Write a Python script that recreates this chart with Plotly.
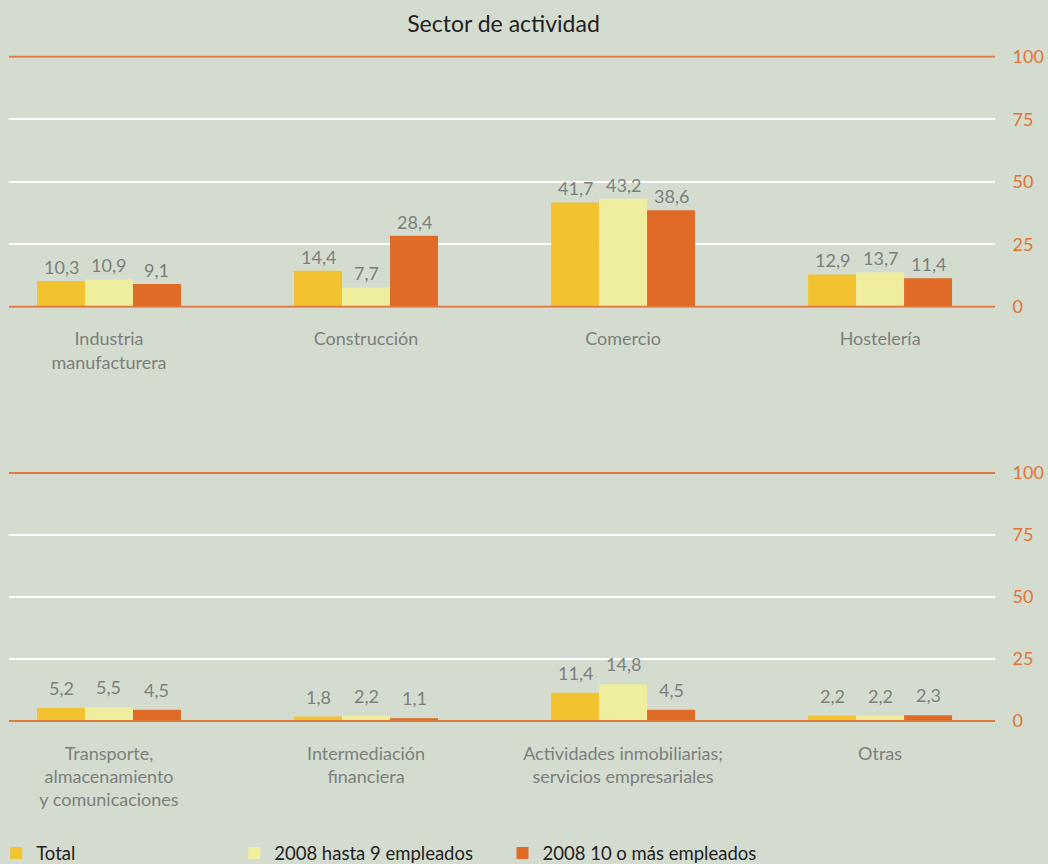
import plotly.graph_objects as go
from plotly.subplots import make_subplots

# categories for each panel
cats_top = ["Industria<br>manufacturera", "Construcción", "Comercio", "Hostelería"]
cats_bot = ["Transporte,<br>almacenamiento<br>y comunicaciones", "Intermediación<br>financiera",
            "Actividades inmobiliarias;<br>servicios empresariales", "Otras"]

series_names = ["Total", "2008 hasta 9 empleados", "2008 10 o más empleados"]

total_top = [10.3, 14.4, 41.7, 12.9]
hasta9_top = [10.9, 7.7, 43.2, 13.7]
mas10_top = [9.1, 28.4, 38.6, 11.4]

total_bot = [5.2, 1.8, 11.4, 2.2]
hasta9_bot = [5.5, 2.2, 14.8, 2.2]
mas10_bot = [4.5, 1.1, 4.5, 2.3]

y_ticks = [0, 25, 50, 75, 100]

COLORS = {
    "total": "#F2C230",
    "hasta9": "#EEEE9E",
    "mas10": "#E06B27",
    "bg": "#D4DCD0",
    "orange_line": "#E07A3C",
    "tick": "#E07434",
    "label": "#7D7F7D",
    "text": "#222222",
}
FONT = "Lato"
W, H = 1048, 864
BARGAP = 0.44


def fmt(v):
    return f"{v:.1f}".replace(".", ",")


fig = make_subplots(rows=2, cols=1)

# row, categories, series, label lift (px)
panels = [
    (1, cats_top, [total_top, hasta9_top, mas10_top], 14),
    (2, cats_bot, [total_bot, hasta9_bot, mas10_bot], 20),
]
keys = ["total", "hasta9", "mas10"]
legends = ["legend", "legend2", "legend3"]
bar_w = (1 - BARGAP) / 3

for row, cats, series, lift in panels:
    for i, vals in enumerate(series):
        fig.add_trace(go.Bar(
            x=cats, y=vals, name=series_names[i],
            marker=dict(color=COLORS[keys[i]], line=dict(width=0)),
            showlegend=(row == 1), legend=legends[i], hoverinfo="skip",
        ), row=row, col=1)
        for j, v in enumerate(vals):
            fig.add_annotation(
                x=j + (i - 1) * bar_w, y=v, text=fmt(v), showarrow=False,
                yanchor="middle", yshift=lift,
                font=dict(color=COLORS["label"], size=18, family=FONT),
                row=row, col=1)

leg_common = dict(orientation="h", xref="paper", yref="container", y=1 - 853.5 / H,
                  xanchor="left", yanchor="middle",
                  font=dict(size=18.5, color=COLORS["text"], family=FONT),
                  bgcolor="rgba(0,0,0,0)")
fig.update_layout(
    width=W, height=H,
    barmode="group", bargap=BARGAP, bargroupgap=0,
    plot_bgcolor=COLORS["bg"], paper_bgcolor=COLORS["bg"],
    font=dict(family=FONT, color=COLORS["text"]),
    margin=dict(l=9, r=53, t=0, b=0, autoexpand=False),
    title=dict(text="Sector de actividad", x=503.5 / W, xanchor="center", xref="container",
               y=1 - 24 / H, yanchor="middle",
               font=dict(size=23, color=COLORS["text"], family=FONT)),
    legend=dict(leg_common, x=-0.013),
    legend2=dict(leg_common, x=0.2284),
    legend3=dict(leg_common, x=0.5005),
)

# pixel rows of the 100 and 0 lines; a small pad keeps the edge lines unclipped
y_px = {1: (56.7, 306.7), 2: (473, 721)}
PAD = 1.5
for row in (1, 2):
    top, bot = y_px[row]
    scale = (bot - top) / 100
    fig.update_yaxes(
        domain=[1 - (bot + PAD * scale) / H, 1 - (top - PAD * scale) / H],
        range=[-PAD, 100 + PAD], side="right", automargin=False,
        tickvals=y_ticks, showgrid=True, gridcolor="#FFFFFF", gridwidth=1.5,
        zeroline=False, showline=False,
        tickfont=dict(color=COLORS["tick"], size=18, family=FONT),
        ticks="outside", ticklen=13, tickcolor="rgba(0,0,0,0)",
        row=row, col=1)
    fig.update_xaxes(
        range=[-0.389, 3.447], showgrid=False, zeroline=False, showline=False,
        automargin=False,
        tickfont=dict(color=COLORS["label"], size=18, family=FONT),
        ticks="outside", ticklen=16 - PAD * scale, tickcolor="rgba(0,0,0,0)",
        row=row, col=1)
    for yv in (0, 100):
        fig.add_hline(y=yv, line=dict(color=COLORS["orange_line"], width=2),
                      layer="above", row=row, col=1)

fig.write_html("out.html", config={"displayModeBar": False},
               post_script="document.body.style.margin='0px';")
